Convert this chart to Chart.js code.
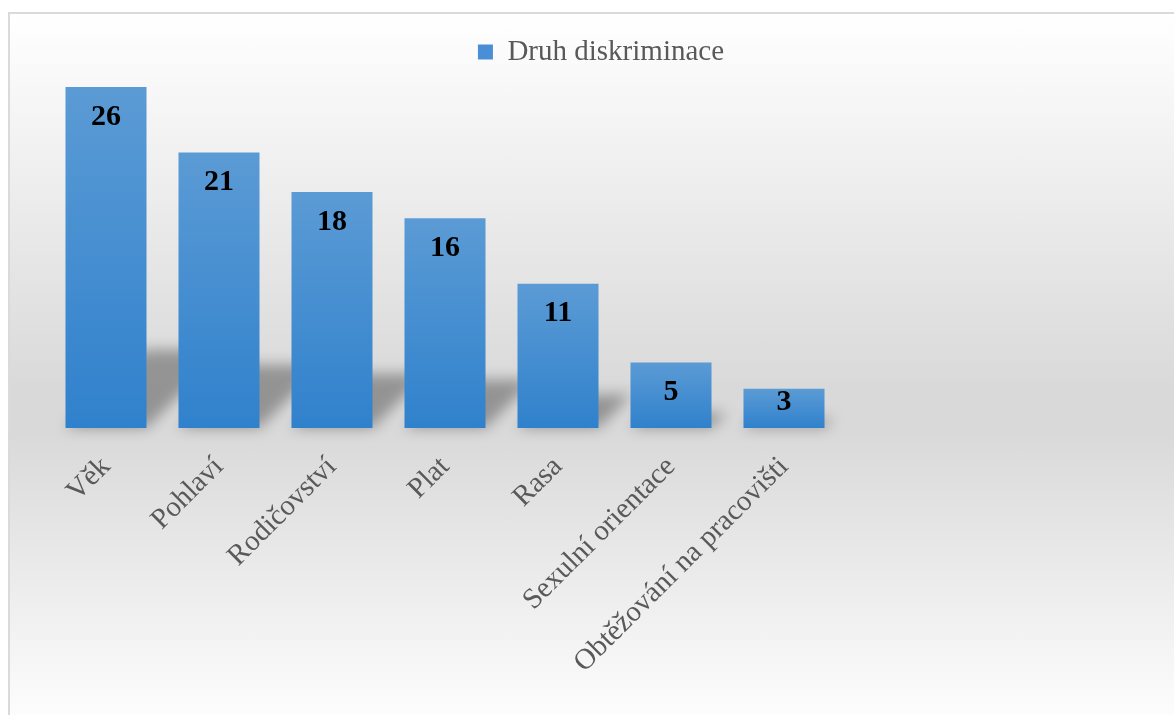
<!DOCTYPE html>
<html>
<head>
<meta charset="utf-8">
<script src="https://cdn.jsdelivr.net/npm/chart.js@4.4.1/dist/chart.umd.min.js"></script>
<style>
    html, body { margin: 0; padding: 0; background: #fff; }
    #frame {
        position: absolute; left: 8px; top: 12px; width: 1200px; height: 720px;
        border: 2px solid #dadada;
        background: linear-gradient(to bottom, #ffffff 0%, #d9d9d9 52%, #d9d9d9 58%, #ffffff 100%);
    }
    #wrap { position: absolute; left: 0; top: 0; width: 1174px; height: 715px; }
</style>
</head>
<body>
<div id="frame"></div>
<div id="wrap"><canvas id="discriminationChart"></canvas></div>
<script>
const categories = ['Věk', 'Pohlaví', 'Rodičovství', 'Plat', 'Rasa', 'Sexulní orientace', 'Obtěžování na pracovišti'];
const counts = [26, 21, 18, 16, 11, 5, 3];
const seriesName = 'Druh diskriminace';

const serif = '"Liberation Serif", "Times New Roman", serif';

function barGradient(context) {
    const chart = context.chart;
    const y = chart.scales.y;
    if (!chart.chartArea || !y || typeof context.raw !== 'number') return '#4a90d9';
    const top = y.getPixelForValue(context.raw);
    const bottom = y.getPixelForValue(0);
    const g = chart.ctx.createLinearGradient(0, top, 0, bottom);
    g.addColorStop(0, '#5b9bd5');
    g.addColorStop(1, '#3081cc');
    return g;
}

// soft slanted shadow behind each bar
const barShadow = {
    id: 'barShadow',
    beforeDatasetsDraw(chart) {
        const ctx = chart.ctx;
        const meta = chart.getDatasetMeta(0);
        ctx.save();
        ctx.fillStyle = 'rgba(0, 0, 0, 0.32)';
        ctx.filter = 'blur(7px)';
        meta.data.forEach(bar => {
            const left = bar.x - bar.width / 2;
            const right = bar.x + bar.width / 2;
            const h = (bar.base - bar.y) * 0.23;
            ctx.beginPath();
            ctx.moveTo(left, bar.base);
            ctx.lineTo(right, bar.base);
            ctx.lineTo(right + h, bar.base - h);
            ctx.lineTo(left + h, bar.base - h);
            ctx.closePath();
            ctx.fill();
        });
        ctx.restore();
    }
};

const valueLabels = {
    id: 'valueLabels',
    afterDatasetsDraw(chart) {
        const ctx = chart.ctx;
        const meta = chart.getDatasetMeta(0);
        ctx.save();
        ctx.font = 'bold 30px ' + serif;
        ctx.fillStyle = '#000';
        ctx.textAlign = 'center';
        ctx.textBaseline = 'middle';
        meta.data.forEach((bar, i) => {
            const y = Math.min(bar.y + 30, bar.base - 26);
            ctx.fillText(String(counts[i]), bar.x, y);
        });
        ctx.restore();
    }
};

new Chart(document.getElementById('discriminationChart'), {
    type: 'bar',
    data: {
        labels: categories,
        datasets: [{
            label: seriesName,
            data: counts,
            backgroundColor: barGradient,
            borderWidth: 0,
            categoryPercentage: 1,
            barPercentage: 0.717
        }]
    },
    options: {
        responsive: true,
        maintainAspectRatio: false,
        animation: false,
        layout: {
            padding: { left: 28, right: 0, top: 27.5, bottom: 0 }
        },
        plugins: {
            legend: {
                position: 'top',
                labels: {
                    boxWidth: 15,
                    boxHeight: 15,
                    padding: 10,
                    color: '#595959',
                    font: { family: serif, size: 29 },
                    generateLabels(chart) {
                        const items = Chart.defaults.plugins.legend.labels.generateLabels(chart);
                        items.forEach(it => {
                            it.fillStyle = '#4a8fd6';
                            it.strokeStyle = 'rgba(0,0,0,0)';
                            it.lineWidth = 0;
                        });
                        return items;
                    }
                }
            },
            tooltip: { enabled: false }
        },
        scales: {
            x: {
                grid: { display: false },
                border: { display: false },
                ticks: {
                    color: '#595959',
                    font: { family: serif, size: 29 },
                    minRotation: 45,
                    maxRotation: 45,
                    autoSkip: false,
                    padding: 14
                },
                afterFit(scale) { scale.height = 287; }
            },
            y: {
                position: 'left',
                min: 0,
                max: 26.8,
                grid: { display: false },
                border: { display: false },
                ticks: { display: false },
                afterFit(scale) { scale.width = 21.5; }
            },
            spacer: {
                type: 'linear',
                position: 'right',
                grid: { display: false },
                border: { display: false },
                ticks: { display: false },
                afterFit(scale) { scale.width = 333.5; }
            }
        }
    },
    plugins: [barShadow, valueLabels]
});
</script>
</body>
</html>
